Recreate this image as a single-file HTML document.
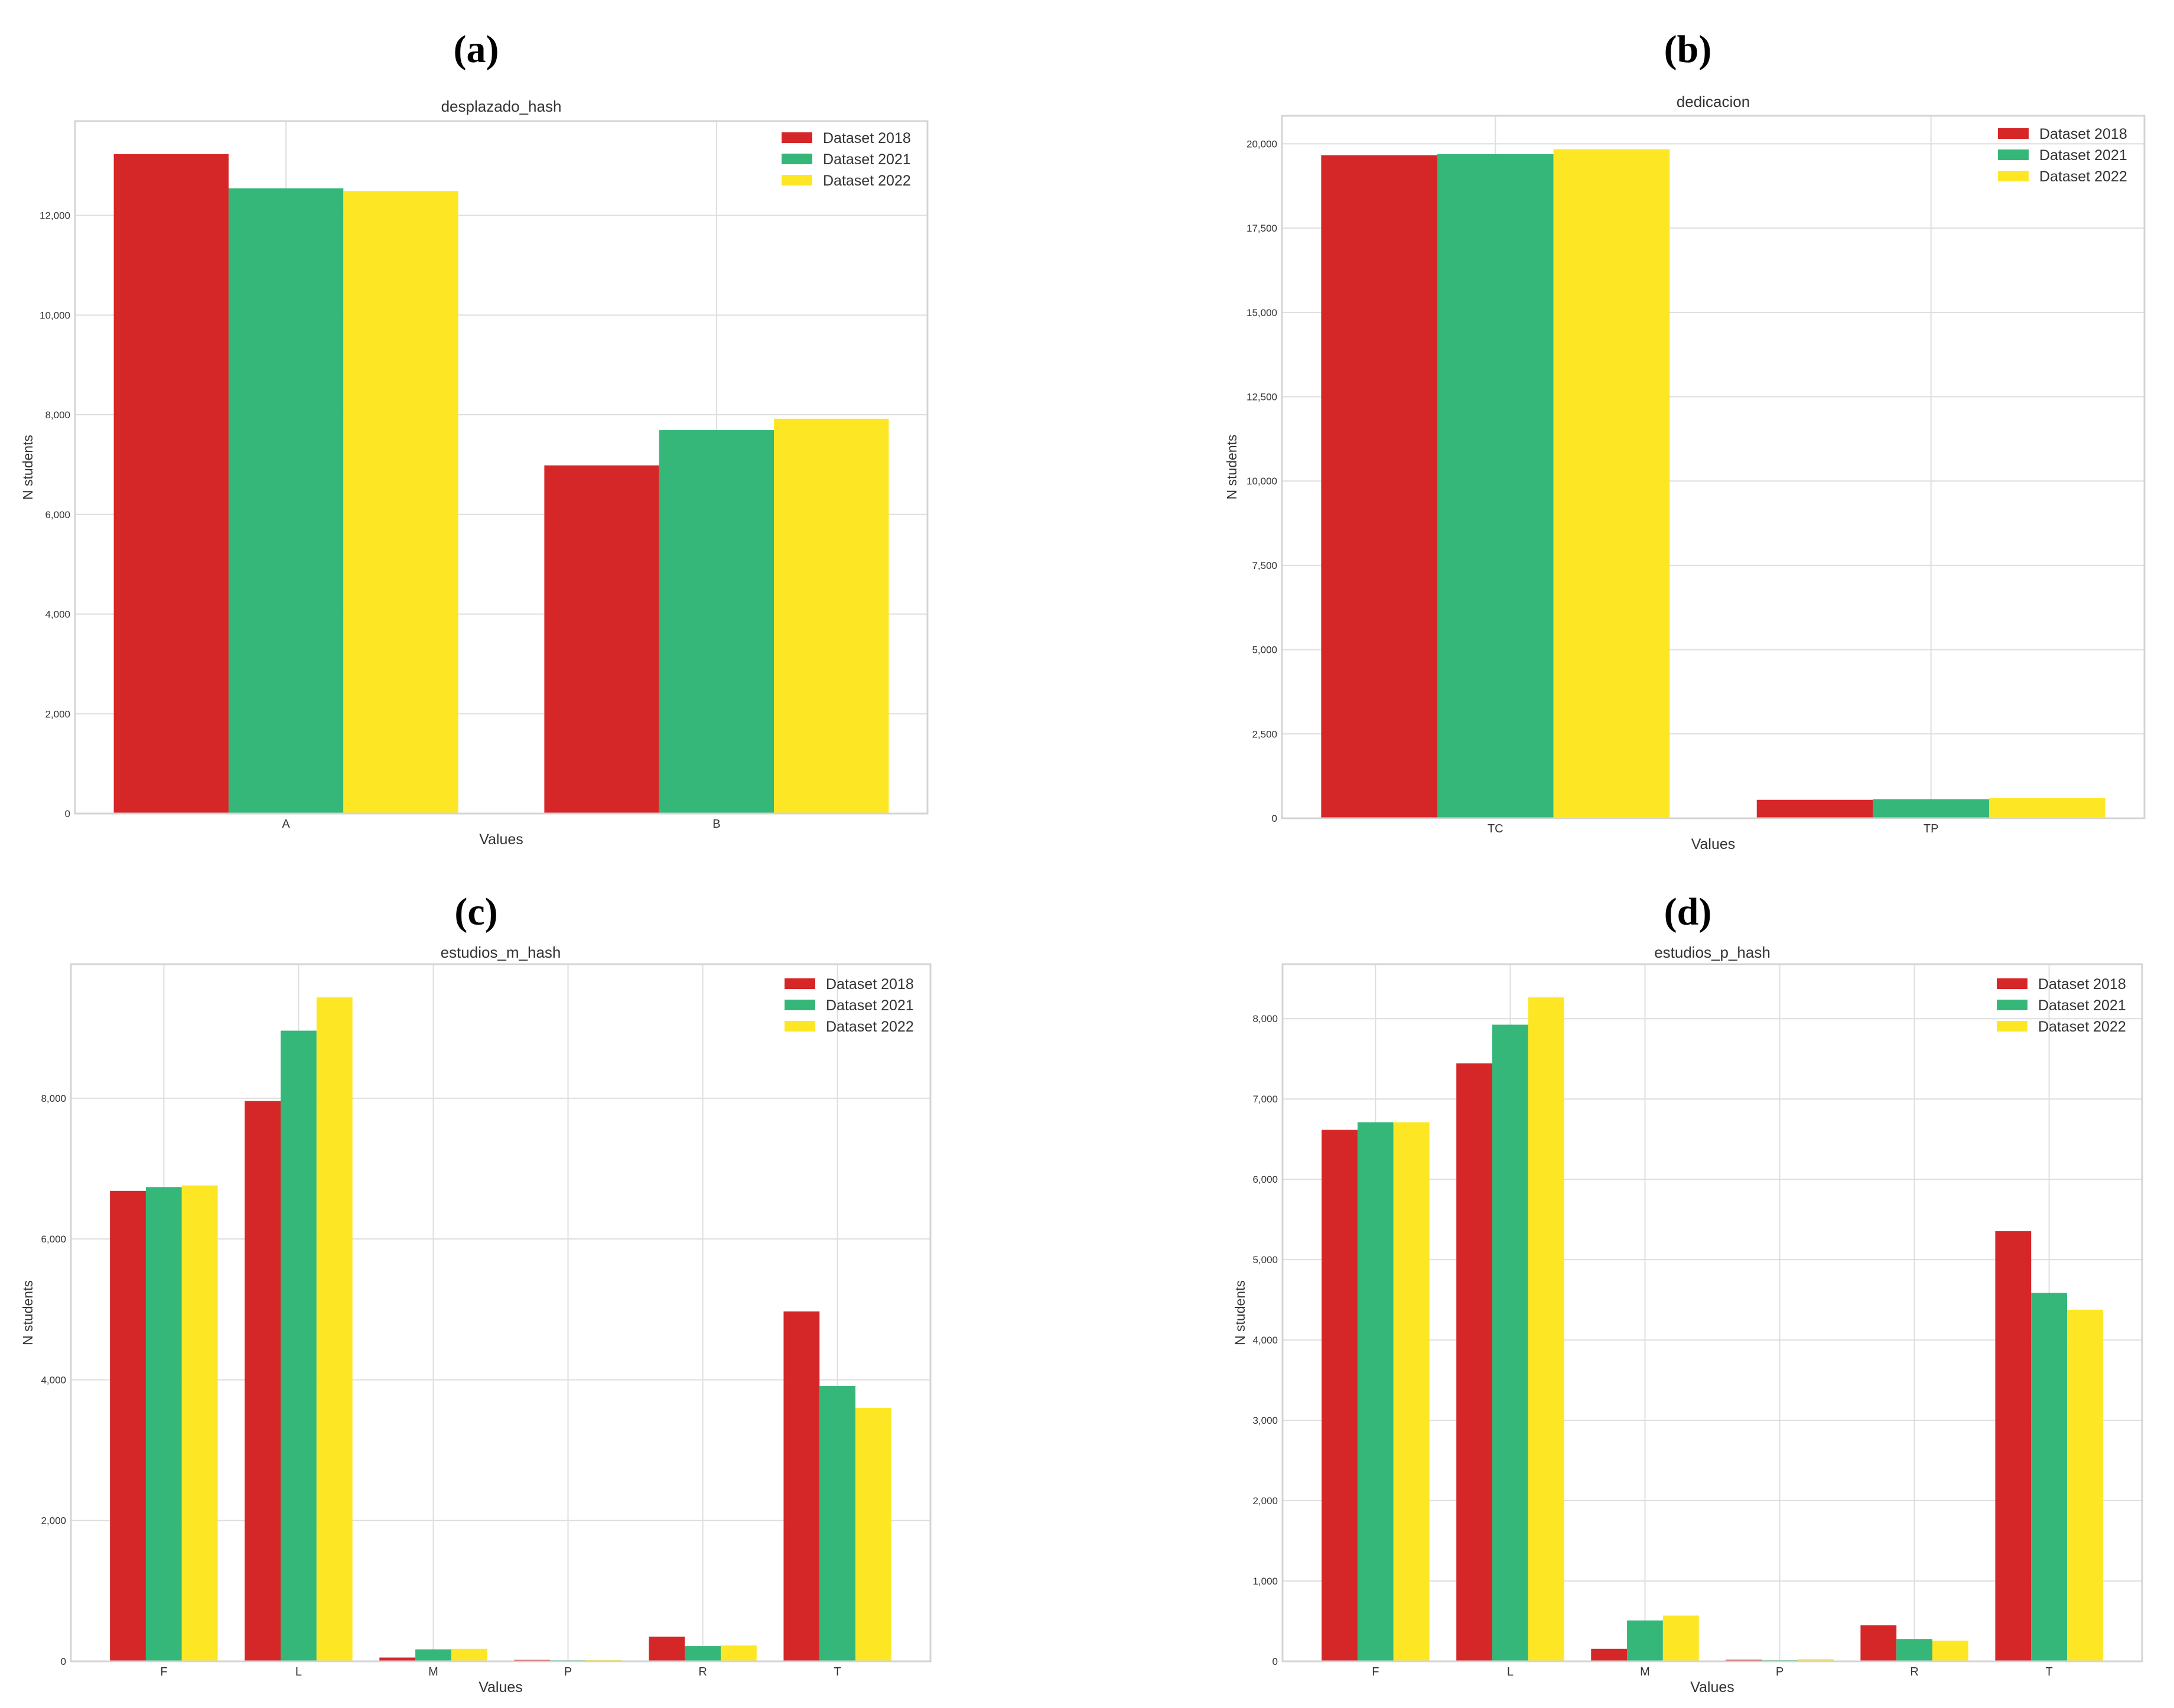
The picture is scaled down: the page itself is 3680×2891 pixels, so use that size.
<!DOCTYPE html>
<html><head><meta charset="utf-8">
<style>
html,body{margin:0;padding:0;background:#fff;overflow:hidden;}
svg{display:block;}
text{font-family:"Liberation Sans",sans-serif;fill:#333;}
.plab{font-family:"Liberation Serif",serif;font-weight:bold;font-size:66px;fill:#000;}
</style></head>
<body>
<svg id="fig" width="3680" height="2891" viewBox="0 0 3680 2891" xmlns="http://www.w3.org/2000/svg"></svg>
<script>
const seriesNames = ["Dataset 2018","Dataset 2021","Dataset 2022"];
const seriesColors = ["#d62728","#35b779","#fde725"];

const catsA = ["A","B"];
const a2018 = [13230,6985];
const a2021 = [12544,7692];
const a2022 = [12490,7920];
const ticksA = [0,2000,4000,6000,8000,10000,12000];

const catsB = ["TC","TP"];
const b2018 = [19662,547];
const b2021 = [19694,563];
const b2022 = [19839,595];
const ticksB = [0,2500,5000,7500,10000,12500,15000,17500,20000];

const catsC = ["F","L","M","P","R","T"];
const c2018 = [6683,7961,54,20,349,4972];
const c2021 = [6738,8960,170,15,217,3911];
const c2022 = [6761,9433,178,18,225,3601];
const ticksC = [0,2000,4000,6000,8000];

const catsD = ["F","L","M","P","R","T"];
const d2018 = [6616,7444,156,20,448,5354];
const d2021 = [6711,7925,509,14,278,4587];
const d2022 = [6711,8265,570,27,258,4377];
const ticksD = [0,1000,2000,3000,4000,5000,6000,7000,8000];

const NS = "http://www.w3.org/2000/svg";
const fig = document.getElementById('fig');
function mk(tag, attrs, parent, txt){
  const e = document.createElementNS(NS, tag);
  for (const k in attrs) e.setAttribute(k, attrs[k]);
  if (txt !== undefined) e.textContent = txt;
  (parent||fig).appendChild(e);
  return e;
}
function fmt(v){ return v.toLocaleString('en-US'); }

function panel(p){
  const g = mk('g', {});
  
  
  const {L,R,T,B} = p;
  const series = p.series;
  let maxV = 0; series.forEach(s=>s.forEach(v=>{ if(v>maxV) maxV=v; }));
  const ymax = maxV*1.05;
  const y = v => B - (v/ymax)*(B-T);
  const n = p.cats.length;
  const span = (n-1) + 0.8;
  const xmin = -0.4 - 0.05*span, xmax = n-1+0.4+0.05*span;
  const x = v => L + (v - xmin)/(xmax - xmin)*(R-L);
  const bw = 0.8/3;
  const pl = mk('text', {x:p.labX, y:p.labY, 'text-anchor':'middle', class:'plab'}, g, p.label);
  
  
  const tt = mk('text', {x:(L+R)/2, y:p.titleY, 'text-anchor':'middle', 'font-size':26}, g, p.title);
  
  
  p.ticks.forEach(t=>{
    const yy = y(t);
    const gl = mk('line', {x1:L, x2:R, y1:yy, y2:yy, stroke:'#dedede', 'stroke-width':2}, g);
    
    
    const tl = mk('text', {x:L-8, y:yy+6, 'text-anchor':'end', 'font-size':17, fill:'#444'}, g, fmt(t));
    
    
  });
  p.cats.forEach((c,i)=>{
    const xx = x(i);
    const gl = mk('line', {x1:xx, x2:xx, y1:T, y2:B, stroke:'#dedede', 'stroke-width':2}, g);
    
    
    const tl = mk('text', {x:xx, y:B+24, 'text-anchor':'middle', 'font-size':20, fill:'#444'}, g, c);
    
    
  });
  series.forEach((s,si)=>{
    s.forEach((v,i)=>{
      const x0 = x(i - 0.4 + si*bw), x1 = x(i - 0.4 + (si+1)*bw);
      const r = mk('rect', {x:x0, y:y(v), width:x1-x0, height:B-y(v), fill:seriesColors[si]}, g);
      
      
    });
  });
  const fr = mk('rect', {x:L, y:T, width:R-L, height:B-T, fill:'none', stroke:'#d4d4d4', 'stroke-width':3}, g);
  
  
  const xl = mk('text', {x:(L+R)/2, y:B+52, 'text-anchor':'middle', 'font-size':25}, g, 'Values');
  
  
  const yl = mk('text', {x:0, y:0, 'text-anchor':'middle', 'font-size':23, transform:`translate(${p.ylabX},${(T+B)/2}) rotate(-90)`}, g, 'N students');
  
  
  seriesNames.forEach((nm,si)=>{
    const ly = p.legY + si*36;
    const lg = mk('g', {}, g);
    
    
    mk('rect', {x:p.legX, y:ly-9, width:52, height:18, fill:seriesColors[si]}, lg);
    mk('text', {x:p.legX+70, y:ly+9, 'font-size':25}, lg, nm);
  });
}

panel({id:'a', label:'(a)', labX:806, labY:105, title:'desplazado_hash', titleY:189,
  L:127, R:1570, T:205, B:1377, cats:catsA, series:[a2018,a2021,a2022], ticks:ticksA,
  ylabX:55, legX:1323, legY:233});
panel({id:'b', label:'(b)', labX:2857, labY:105, title:'dedicacion', titleY:181,
  L:2170, R:3630, T:196, B:1385, cats:catsB, series:[b2018,b2021,b2022], ticks:ticksB,
  ylabX:2093, legX:3382, legY:226});
panel({id:'c', label:'(c)', labX:806, labY:1565, title:'estudios_m_hash', titleY:1621,
  L:120, R:1575, T:1632, B:2812, cats:catsC, series:[c2018,c2021,c2022], ticks:ticksC,
  ylabX:55, legX:1328, legY:1665});
panel({id:'d', label:'(d)', labX:2857, labY:1565, title:'estudios_p_hash', titleY:1621,
  L:2171, R:3626, T:1632, B:2812, cats:catsD, series:[d2018,d2021,d2022], ticks:ticksD,
  ylabX:2107, legX:3380, legY:1665});
</script>
</body></html>
